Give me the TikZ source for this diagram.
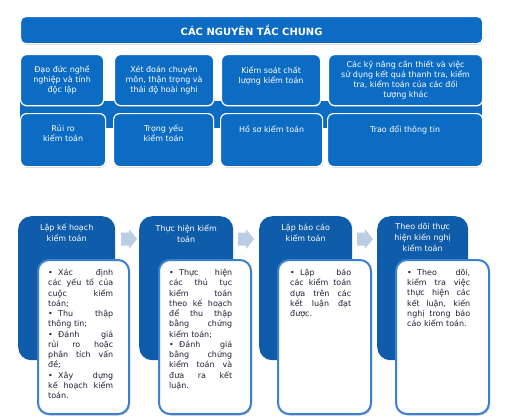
\documentclass[tikz,border=0pt]{standalone}
\usepackage{fontspec}
\setmainfont{DejaVu Sans}
\usetikzlibrary{positioning,shadows}
\definecolor{rowblue}{RGB}{12,108,196}
\definecolor{colblue}{RGB}{14,92,170}
\definecolor{rimblue}{RGB}{62,128,208}
\definecolor{arrowblue}{RGB}{186,205,229}
\definecolor{inktext}{RGB}{28,32,52}
\newlength{\jlw}
\def\jl#1{\makebox[\jlw][s]{\spaceskip=0.33em plus 1fil\relax #1}\\}
\def\bul{\makebox[10bp][l]{\textbullet}}
\def\blockarrow(#1,#2){\fill[arrowblue] (#1,#2-6.5) -- (#1+8,#2-6.5) -- (#1+8,#2-10) -- (#1+16,#2) -- (#1+8,#2+10) -- (#1+8,#2+6.5) -- (#1,#2+6.5) -- cycle;}
\tikzset{
	headbox/.style={anchor=north west, inner sep=0pt, fill=rowblue, draw=white, line width=1.2bp, rounded corners=5bp,
		drop shadow={shadow xshift=0.6bp, shadow yshift=-1.2bp, fill=black!30}, text=white,
		font=\fontsize{10}{12}\selectfont\bfseries},
	rowbox/.style={anchor=north west, inner sep=0pt, fill=rowblue, draw=white, line width=1.2bp, rounded corners=6bp,
		drop shadow={shadow xshift=0.6bp, shadow yshift=-1.2bp, fill=black!30}, text=white, align=center,
		font=\fontsize{8}{10}\selectfont},
	rowtext/.style={inner sep=0pt, text=white, align=center, font=\fontsize{8}{10}\selectfont},
	colbox/.style={anchor=north west, inner sep=0pt, fill=colblue, rounded corners=13bp},
	coltitle/.style={inner sep=0pt, text=white, align=center, font=\fontsize{8}{11}\selectfont},
	notebox/.style={anchor=north west, inner sep=0pt, fill=white, draw=rimblue, line width=2bp, rounded corners=11bp,
		drop shadow={shadow xshift=1bp, shadow yshift=-1.5bp, fill=black!40}},
	notetext/.style={inner sep=0pt, text=inktext, align=left, text width=#1,
		execute at begin node={\setlength{\jlw}{#1}}, font=\fontsize{8}{10.3}\selectfont}
}
\begin{document}
\begin{tikzpicture}[x=1bp, y=-1bp]
		%%%%% START %%%%%
		\useasboundingbox (0,0) rectangle (505,416);
		
		\node[headbox, minimum width=462bp, minimum height=27bp] (head) at (20,16) {CÁC NGUYÊN TẮC CHUNG};
		
		\fill[rowblue] (20,101) rectangle (482,128);
		
		\node[rowbox, minimum width=83bp, minimum height=51bp] (p1) at (20,54) {Đạo đức nghề\\nghiệp và tính\\độc lập};
		\node[rowbox, minimum width=99bp, minimum height=51bp] (p2) at (114,54) {Xét đoán chuyên\\môn, thận trọng và\\thái độ hoài nghi};
		\node[rowbox, minimum width=99bp, minimum height=51bp] (p3) at (221,54) {Kiểm soát chất\\lượng kiểm toán\\\mbox{}};
		\node[rowbox, minimum width=154bp, minimum height=51bp] (p4) at (328,54) {Các kỹ năng cần thiết và việc\\sử dụng kết quả thanh tra, kiểm\\tra, kiểm toán của các đối\\tượng khác};
		
		\node[rowbox, minimum width=85bp, minimum height=53bp] (r1) at (20,113) {};
		\node[rowbox, minimum width=100bp, minimum height=53bp] (r2) at (113,113) {};
		\node[rowbox, minimum width=102bp, minimum height=53bp] (r3) at (220,113) {};
		\node[rowbox, minimum width=155bp, minimum height=53bp] (r4) at (327,113) {};
		\node[rowtext, below=12bp of r1.north] (r1t) {Rủi ro\\kiểm toán};
		\node[rowtext, below=12bp of r2.north] (r2t) {Trọng yếu\\kiểm toán};
		\node[rowtext, below=12bp of r3.north] (r3t) {Hồ sơ kiểm toán};
		\node[rowtext, below=12bp of r4.north] (r4t) {Trao đổi thông tin};
		
		\node[colbox, minimum width=97bp, minimum height=144bp] (d1) at (18,216) {};
		\node[colbox, minimum width=94bp, minimum height=144bp] (d2) at (139,216) {};
		\node[colbox, minimum width=93bp, minimum height=144bp] (d3) at (259,216) {};
		\node[colbox, minimum width=91bp, minimum height=144bp] (d4) at (377,216) {};
		\node[coltitle, below=8bp of d1.north] (d1t) {Lập kế hoạch\\kiểm toán};
		\node[coltitle, below=8bp of d2.north] (d2t) {Thực hiện kiểm\\toán};
		\node[coltitle, below=8bp of d3.north] (d3t) {Lập báo cáo\\kiểm toán};
		\node[coltitle, below=7bp of d4.north] (d4t) {Theo dõi thực\\hiện kiến nghị\\kiểm toán};
		
		\blockarrow(121,239)
		\blockarrow(238,239)
		\blockarrow(357,239)
		
		\node[notebox, minimum width=91bp, minimum height=154bp] (w1) at (37,259) {};
		\node[notebox, minimum width=92bp, minimum height=154bp] (w2) at (158,259) {};
		\node[notebox, minimum width=93bp, minimum height=154bp] (w3) at (277,259) {};
		\node[notebox, minimum width=93bp, minimum height=154bp] (w4) at (395,259) {};
		
		\node[notetext=65bp, below right=10bp and 11bp of w1.north west] (w1t) {\jl{\bul Xác định}\jl{các yếu tố của}\jl{cuộc kiểm}toán;\\\jl{\bul Thu thập}thông tin;\\\jl{\bul Đánh giá}\jl{rủi ro hoặc}\jl{phân tích vấn}đề;\\\jl{\bul Xây dựng}\jl{kế hoạch kiểm}toán.};
		\node[notetext=63bp, below right=10bp and 11bp of w2.north west] (w2t) {\jl{\bul Thực hiện}\jl{các thủ tục}\jl{kiểm toán}\jl{theo kế hoạch}\jl{để thu thập}\jl{bằng chứng}kiểm toán;\\\jl{\bul Đánh giá}\jl{bằng chứng}\jl{kiểm toán và}\jl{đưa ra kết}luận.};
		\node[notetext=61bp, below right=10bp and 13bp of w3.north west] (w3t) {\jl{\bul Lập báo}\jl{các kiểm toán}\jl{dựa trên các}\jl{kết luận đạt}được.};
		\node[notetext=63bp, below right=10bp and 12bp of w4.north west] (w4t) {\jl{\bul Theo dõi,}\jl{kiểm tra việc}\jl{thực hiện các}\jl{kết luận, kiến}\jl{nghị trong báo}cáo kiểm toán.};
		
		%%%%% END %%%%%
	\end{tikzpicture}
\end{document}
